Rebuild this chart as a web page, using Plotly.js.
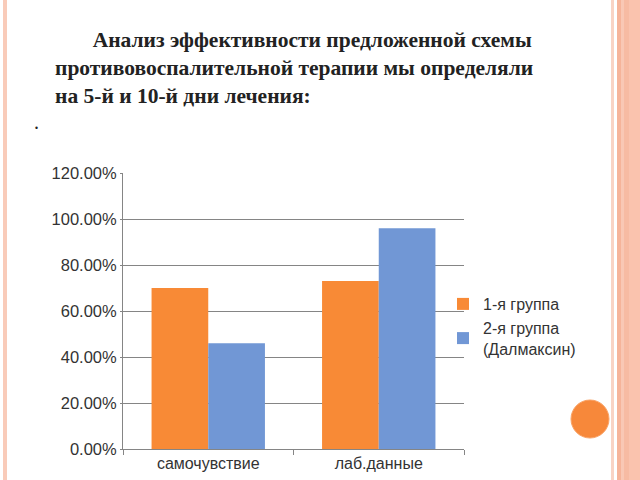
<!DOCTYPE html>
<html>
<head>
<meta charset="utf-8">
<script src="https://cdn.plot.ly/plotly-3.0.1.min.js"></script>
<style>html,body{margin:0;padding:0;background:#fff;}#chart{width:640px;height:480px;}</style>
</head>
<body>
<div id="chart"></div>
<script>
// Data
var categories = ['самочувствие', 'лаб.данные'];
var group1 = [0.70, 0.73];
var group2 = [0.46, 0.96];
var seriesNames = ['1-я группа', '2-я группа<br>(Далмаксин)'];
var titleLines = ['\u200B\u00A0\u00A0\u00A0\u00A0\u00A0\u00A0\u00A0Анализ эффективности предложенной схемы',
                  'противовоспалительной терапии мы определяли',
                  'на 5-й и 10-й дни лечения:'];

// plot area in pixels
var L = 123, R = 464, T = 173, B = 449;
function px(x){ return (x - L) / (R - L); }
function py(y){ return (B - y) / (B - T); }

var stripes = [
  {x0: 3, x1: 7, c: '#f9cbb9'},
  {x0: 611, x1: 614, c: '#f9d3c4'},
  {x0: 617, x1: 621, c: '#f6b49a'},
  {x0: 621, x1: 624, c: '#f9c8b5'},
  {x0: 624, x1: 629, c: '#f7bba3'},
  {x0: 629, x1: 640, c: '#fac3ae'}
];
var shapes = stripes.map(function(s){
  return {type: 'rect', xref: 'paper', yref: 'paper', x0: px(s.x0), x1: px(s.x1), y0: py(480), y1: py(0),
          fillcolor: s.c, line: {width: 0}, layer: 'below'};
});
shapes.push({type: 'circle', xref: 'paper', yref: 'paper', x0: px(571), x1: px(609), y0: py(438), y1: py(400),
             fillcolor: '#f7883a', line: {color: '#f9a265', width: 1}});

var traces = [
  {type: 'bar', x: categories, y: group1, name: seriesNames[0], marker: {color: '#f88a36'}},
  {type: 'bar', x: categories, y: group2, name: seriesNames[1], marker: {color: '#7197d5'}}
];

var layout = {
  width: 640, height: 480,
  margin: {l: L, r: 640 - R, t: T, b: 480 - B, pad: 0},
  paper_bgcolor: '#ffffff', plot_bgcolor: '#ffffff',
  font: {family: 'Liberation Sans, Arial, sans-serif', size: 16, color: '#333333'},
  title: {
    text: titleLines.join('<br>'),
    xref: 'container', yref: 'container', x: 55 / 640, xanchor: 'left', y: 1 - 47 / 480, yanchor: 'top',
    font: {family: 'Liberation Serif, Times New Roman, serif', size: 21.5, color: '#222222', weight: 'bold'}
  },
  barmode: 'group', bargap: 0.335, bargroupgap: 0,
  xaxis: {
    showline: true, linecolor: '#858585', linewidth: 1, ticks: 'outside', tickson: 'boundaries',
    ticklen: 5, tickcolor: '#858585', showgrid: false, zeroline: false, fixedrange: true
  },
  yaxis: {
    range: [0, 1.2], dtick: 0.2, tickformat: '.2%', showline: true, linecolor: '#858585', linewidth: 1,
    ticks: 'outside', ticklen: 2, tickcolor: '#858585', showgrid: true, gridcolor: '#858585', gridwidth: 1,
    zeroline: false, fixedrange: true, tickfont: {size: 16.5}
  },
  legend: {x: px(443), xanchor: 'left', y: py(287), yanchor: 'top', bgcolor: 'rgba(0,0,0,0)',
           font: {size: 16, color: '#333333'}, tracegroupgap: 0, itemclick: false},
  shapes: shapes,
  annotations: [
    {text: '.', xref: 'paper', yref: 'paper', x: px(36), y: py(135), showarrow: false,
     font: {family: 'Liberation Serif, serif', size: 20, color: '#222222'}, xanchor: 'center', yanchor: 'bottom'}
  ]
};

Plotly.newPlot('chart', traces, layout, {displayModeBar: false, staticPlot: true});
</script>
</body>
</html>
